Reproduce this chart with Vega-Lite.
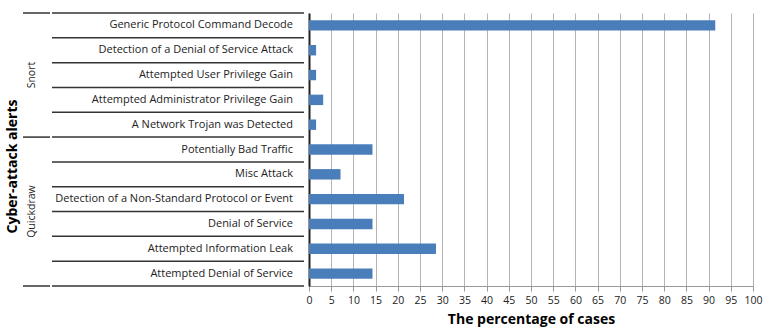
{
  "$schema": "https://vega.github.io/schema/vega-lite/v6.json",
  "background": "white",
  "padding": {"left": 5, "top": 12, "right": 10, "bottom": 0},
  "spacing": 0,
  "config": {
    "view": {"stroke": null},
    "font": "Open Sans",
    "concat": {"spacing": 0}
  },
  "data": {
    "values": [
      {"group": "Snort", "alert": "Generic Protocol Command Decode", "pct": 91.5},
      {"group": "Snort", "alert": "Detection of a Denial of Service Attack", "pct": 1.6},
      {"group": "Snort", "alert": "Attempted User Privilege Gain", "pct": 1.6},
      {"group": "Snort", "alert": "Attempted Administrator Privilege Gain", "pct": 3.2},
      {"group": "Snort", "alert": "A Network Trojan was Detected", "pct": 1.6},
      {"group": "Quickdraw", "alert": "Potentially Bad Traffic", "pct": 14.3},
      {"group": "Quickdraw", "alert": "Misc Attack", "pct": 7.1},
      {"group": "Quickdraw", "alert": "Detection of a Non-Standard Protocol or Event", "pct": 21.4},
      {"group": "Quickdraw", "alert": "Denial of Service", "pct": 14.3},
      {"group": "Quickdraw", "alert": "Attempted Information Leak", "pct": 28.6},
      {"group": "Quickdraw", "alert": "Attempted Denial of Service", "pct": 14.3}
    ]
  },
  "resolve": {"scale": {"y": "independent", "x": "independent"}},
  "hconcat": [
    {
      "width": 27,
      "height": 273,
      "encoding": {
        "y": {
          "field": "alert", "type": "nominal", "sort": null,
          "scale": {"paddingInner": 0, "paddingOuter": 0},
          "axis": {"labels": false, "ticks": false, "domain": false, "title": "Cyber-attack alerts",
                   "titleFont": "Open Sans", "titleFontSize": 14, "titleFontWeight": "bold", "titleColor": "#000",
                   "titlePadding": 4, "titleY": 153}
        }
      },
      "layer": [
        {
          "mark": {"type": "rule", "opacity": 0},
          "encoding": {"y": {"field": "alert", "type": "nominal", "sort": null}}
        },
        {
          "transform": [{"filter": "datum.alert == 'Attempted User Privilege Gain'"}],
          "mark": {"type": "text", "angle": 270, "fontSize": 10.5, "color": "#222", "font": "Open Sans"},
          "encoding": {"text": {"field": "group"}, "y": {"field": "alert", "type": "nominal", "sort": null, "bandPosition": 0.5}, "x": {"value": 9}}
        },
        {
          "transform": [{"filter": "datum.alert == 'Denial of Service'"}],
          "mark": {"type": "text", "angle": 270, "fontSize": 10.5, "color": "#222", "font": "Open Sans"},
          "encoding": {"text": {"field": "group"}, "y": {"field": "alert", "type": "nominal", "sort": null, "bandPosition": 0}, "x": {"value": 9}}
        },
        {
          "transform": [{"filter": "datum.alert == 'Generic Protocol Command Decode' || datum.alert == 'Potentially Bad Traffic'"}],
          "mark": {"type": "rule", "color": "#333", "strokeWidth": 1.5},
          "encoding": {"y": {"field": "alert", "type": "nominal", "sort": null, "bandPosition": 0}}
        },
        {
          "transform": [{"filter": "datum.alert == 'Attempted Denial of Service'"}],
          "mark": {"type": "rule", "color": "#333", "strokeWidth": 1.5},
          "encoding": {"y": {"field": "alert", "type": "nominal", "sort": null, "bandPosition": 1}}
        }
      ]
    },
    {
      "width": 252,
      "height": 273,
      "encoding": {
        "y": {
          "field": "alert", "type": "nominal", "sort": null,
          "scale": {"paddingInner": 0, "paddingOuter": 0},
          "axis": null
        }
      },
      "layer": [
        {
          "mark": {"type": "text", "align": "right", "dx": -11, "fontSize": 11, "color": "#222", "font": "Open Sans"},
          "encoding": {"text": {"field": "alert"}, "x": {"value": "width"}, "y": {"field": "alert", "type": "nominal", "sort": null, "bandPosition": 0.5}}
        },
        {
          "mark": {"type": "rule", "color": "#333", "strokeWidth": 1.5},
          "encoding": {"y": {"field": "alert", "type": "nominal", "sort": null, "bandPosition": 0}}
        },
        {
          "transform": [{"filter": "datum.alert == 'Attempted Denial of Service'"}],
          "mark": {"type": "rule", "color": "#333", "strokeWidth": 1.5},
          "encoding": {"y": {"field": "alert", "type": "nominal", "sort": null, "bandPosition": 1}}
        }
      ]
    },
    {
      "width": 444,
      "height": 273,
      "mark": {"type": "bar", "color": "#4A7EBB", "height": {"band": 0.42}},
      "encoding": {
        "y": {
          "field": "alert", "type": "nominal", "sort": null,
          "scale": {"paddingInner": 0, "paddingOuter": 0},
          "axis": {"labels": false, "ticks": false, "title": null, "grid": false, "domainColor": "#222", "domainWidth": 2}
        },
        "x": {
          "field": "pct", "type": "quantitative",
          "scale": {"domain": [0, 100], "nice": false},
          "axis": {
            "values": [0,5,10,15,20,25,30,35,40,45,50,55,60,65,70,75,80,85,90,95,100],
            "labelOverlap": false, "labelFlush": false,
            "title": "The percentage of cases",
            "titleFont": "Open Sans", "titleFontSize": 14, "titleFontWeight": "bold", "titleColor": "#000",
            "titlePadding": 7,
            "labelFont": "Open Sans", "labelFontSize": 10.5, "labelColor": "#222", "labelPadding": 4,
            "grid": true, "gridColor": "#b4b4b4", "gridWidth": 1,
            "domainColor": "#999", "tickColor": "#999", "tickSize": 5
          }
        }
      }
    }
  ]
}
